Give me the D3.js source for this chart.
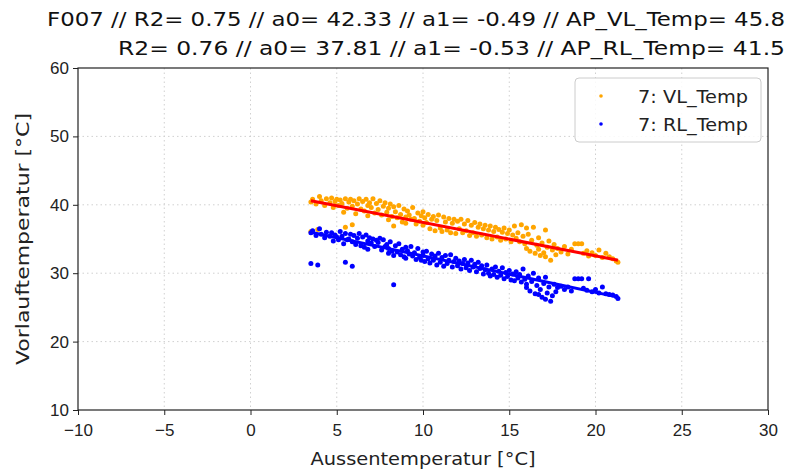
<!DOCTYPE html>
<html lang="de">
<head>
  <meta charset="UTF-8">
  <script src="https://d3js.org/d3.v7.min.js"></script>
  <style>
    body {
      margin: 0;
      background: #fff;
      font-family: "DejaVu Sans", sans-serif;
    }
    .grid line {
      stroke: #d0d0d0;
      stroke-dasharray: 1.5 3;
    }
    .axis text {
      font-size: 17px;
      fill: #222;
    }
  </style>
</head>
<body>
  <svg id="chart" width="799" height="471"></svg>

  <script>
    // outdoor temperature of each measurement
    const aussen = [
      3.5, 3.5, 3.6, 3.8, 3.9, 4.0, 4.1, 4.3, 4.4, 4.6, 4.7, 4.8, 4.9, 5.0, 5.1,
      5.2, 5.3, 5.4, 5.5, 5.5, 5.6, 5.7, 5.8, 5.9, 5.9, 6.0, 6.1, 6.2, 6.3, 6.4, 6.5, 6.6, 6.7, 6.8, 6.8, 6.9, 7.0, 7.1, 7.2, 7.3,
      7.4, 7.5, 7.6, 7.7, 7.8, 7.9, 8.0, 8.0, 8.1, 8.2, 8.3, 8.3, 8.4, 8.5, 8.6, 8.7, 8.8, 8.9, 9.0, 9.0, 9.1, 9.2, 9.3, 9.4, 9.5,
      9.6, 9.7, 9.8, 9.9, 10.0, 10.0, 10.1, 10.2,
      10.3, 10.4, 10.5, 10.6, 10.7, 10.8, 10.9, 11.0, 11.1, 11.2, 11.3, 11.4, 11.5, 11.6, 11.7, 11.8, 11.9, 12.0, 12.1, 12.2,
      12.3, 12.4, 12.5, 12.6, 12.7, 12.8, 12.9, 13.0, 13.1, 13.2,
      13.3, 13.4, 13.5, 13.6, 13.7, 13.8, 13.9, 14.0, 14.1, 14.2, 14.3, 14.4, 14.5, 14.6, 14.7, 14.8, 14.9, 15.0, 15.1, 15.2,
      15.3, 15.4, 15.5, 15.6, 15.7, 15.8, 15.9, 16.0, 16.0,
      16.1, 16.2, 16.3, 16.4, 16.5, 16.6, 16.7, 16.7, 16.8, 16.9, 17.0, 17.1, 17.1, 17.2, 17.3, 17.4, 17.5, 17.6, 17.7, 17.8, 18.0,
      18.2, 18.4, 18.6, 18.8, 19.0, 19.2, 19.3, 19.5, 19.6, 19.8, 20.0, 20.2, 20.4, 20.6, 20.8, 21.0, 21.2, 21.3];

    const vlTemp = [
      40.4, 36.1, 40.8, 40.1, 36.4, 41.2, 40.6, 39.9, 40.9, 40.3, 41.0, 39.6, 40.5, 40.8, 39.9,
      40.7, 40.2, 38.9, 36.7, 40.9, 39.5, 40.4, 40.8, 37.1, 39.8, 40.6, 38.7, 40.1, 40.9, 39.4, 40.5, 39.1, 40.8, 39.9, 38.4, 40.3, 39.6, 40.9, 38.8, 40.2,
      39.3, 40.6, 38.5, 39.8, 40.3, 38.9, 39.5, 37.8, 40.1, 38.3, 39.7, 36.9, 39.0, 38.1, 39.9, 38.6, 37.5, 39.4, 38.2, 37.3, 39.1, 38.5, 37.9, 39.6, 38.0,
      37.2, 38.8, 37.6, 38.4, 39.0, 37.0, 38.1, 37.4,
      38.6, 36.5, 37.9, 38.3, 36.2, 37.7, 38.5, 36.6, 36.1, 38.2, 37.5, 36.3, 38.0, 35.9, 37.3, 37.9, 35.8, 37.6, 36.5, 37.9,
      35.9, 37.2, 36.2, 37.7, 35.5, 37.0, 35.9, 37.4, 35.4, 36.7,
      37.2, 35.6, 36.5, 37.0, 35.2, 36.3, 36.9, 35.0, 36.1, 36.7, 35.3, 36.4, 34.8, 36.0, 36.6, 35.0, 35.8, 36.3, 34.6, 35.6,
      36.9, 35.1, 35.9, 34.6, 37.1, 35.4, 34.3, 36.6, 33.6,
      35.7, 33.2, 34.8, 36.7, 32.9, 34.1, 33.5, 35.2, 32.6, 34.4, 33.0, 36.3, 32.4, 33.8, 34.7, 31.9, 33.4, 34.2, 32.7, 33.6, 33.1,
      33.9, 32.8, 33.5, 34.3, 34.3, 34.3, 32.9, 33.3, 32.5, 33.0, 32.6, 33.4, 32.3, 32.9, 32.4, 32.1, 31.8, 31.6];

    const rlTemp = [
      35.9, 31.4, 36.2, 35.5, 31.2, 36.5, 35.7, 35.2, 36.0, 35.4, 35.9, 34.7, 35.6, 35.3, 34.9,
      36.1, 35.4, 34.3, 31.6, 35.8, 34.9, 35.0, 35.7, 31.0, 34.6, 35.5, 34.2, 35.1, 35.8, 34.0, 35.3, 33.8, 35.6, 34.7, 33.5, 35.2, 34.4, 35.0, 33.9, 34.8,
      34.5, 35.1, 33.4, 34.9, 33.9, 34.2, 33.6, 32.9, 34.6, 33.2, 28.3, 32.6, 34.0, 33.1, 34.3, 32.7, 33.5, 32.4, 33.8, 32.2, 33.3, 32.8, 33.9, 32.5, 33.0,
      32.0, 33.6, 32.3, 31.9, 33.1, 32.6, 31.7, 33.2,
      32.1, 31.5, 32.8, 31.9, 32.5, 31.2, 32.9, 31.6, 32.3, 31.0, 32.6, 31.4, 31.9, 32.7, 30.9, 31.7, 32.2, 31.1, 31.8, 30.6,
      31.4, 32.0, 30.8, 31.5, 30.4, 31.9, 30.9, 31.3, 30.2, 31.6,
      30.7, 31.1, 29.9, 30.5, 31.2, 30.0, 29.6, 30.6, 29.8, 30.9, 29.4, 30.3, 29.7, 30.8, 29.2, 30.1, 29.5, 30.4, 29.0, 29.9,
      28.9, 30.2, 29.3, 29.8, 28.7, 30.6, 29.1, 28.4, 27.9,
      29.6, 27.4, 28.8, 30.0, 27.0, 28.2, 26.9, 29.3, 27.6, 26.5, 28.5, 29.4, 26.2, 27.1, 28.0, 25.9, 26.7, 28.4, 27.3, 27.9, 28.1,
      27.6, 28.0, 27.4, 29.2, 29.2, 29.2, 27.8, 27.5, 29.2, 27.3, 27.6, 27.1, 28.0, 27.0, 26.9, 26.8, 26.6, 26.3];

    // fitted lines, end points
    const fitX = [3.5, 21.3];
    const fitVL = [40.6, 31.9];
    const fitRL = [36.0, 26.5];

    const xTicks = [-10, -5, 0, 5, 10, 15, 20, 25, 30];
    const yTicks = [10, 20, 30, 40, 50, 60];

    const titleLines = [
      "F007 // R2= 0.75 // a0= 42.33 // a1= -0.49 // AP_VL_Temp= 45.8",
      "R2= 0.76 // a0= 37.81 // a1= -0.53 // AP_RL_Temp= 41.5"
    ];
    const legendLabels = ["7: VL_Temp", "7: RL_Temp"];

    const svg = d3.select("#chart");
    const plotL = 78, plotR = 768, plotT = 68, plotB = 410;

    const x = d3.scaleLinear().domain([-10, 30]).range([plotL, plotR]);
    const y = d3.scaleLinear().domain([10, 60]).range([plotB, plotT]);

    // grid
    const grid = svg.append("g").attr("class", "grid");
    grid.selectAll(".gx").data(xTicks.slice(1, -1)).enter().append("line")
      .attr("x1", d => x(d)).attr("x2", d => x(d))
      .attr("y1", plotT).attr("y2", plotB);
    grid.selectAll(".gy").data(yTicks.slice(1, -1)).enter().append("line")
      .attr("x1", plotL).attr("x2", plotR)
      .attr("y1", d => y(d)).attr("y2", d => y(d));

    // scatter
    const pts = aussen.map((t, i) => ({ t, vl: vlTemp[i], rl: rlTemp[i] }));
    svg.append("g").selectAll("circle").data(pts).enter().append("circle")
      .attr("cx", d => x(d.t)).attr("cy", d => y(d.vl)).attr("r", 2.5)
      .attr("fill", "#ffa500");
    svg.append("g").selectAll("circle").data(pts).enter().append("circle")
      .attr("cx", d => x(d.t)).attr("cy", d => y(d.rl)).attr("r", 2.5)
      .attr("fill", "#0000ff");

    // regression lines
    const line = d3.line().x(d => x(d[0])).y(d => y(d[1]));
    svg.append("path").attr("d", line(fitX.map((t, i) => [t, fitVL[i]])))
      .attr("stroke", "#ff0000").attr("stroke-width", 3).attr("fill", "none");
    svg.append("path").attr("d", line(fitX.map((t, i) => [t, fitRL[i]])))
      .attr("stroke", "#0000ff").attr("stroke-width", 3).attr("fill", "none");

    // axes
    svg.append("g").attr("class", "axis")
      .attr("transform", `translate(0,${plotB})`)
      .call(d3.axisBottom(x).tickValues(xTicks).tickSize(5).tickPadding(9));
    svg.append("g").attr("class", "axis")
      .attr("transform", `translate(${plotL},0)`)
      .call(d3.axisLeft(y).tickValues(yTicks).tickSize(5).tickPadding(4));
    svg.selectAll(".axis .domain").remove();
    svg.selectAll(".axis line").attr("stroke", "#222");

    svg.append("rect")
      .attr("x", plotL).attr("y", plotT)
      .attr("width", plotR - plotL).attr("height", plotB - plotT)
      .attr("fill", "none").attr("stroke", "#222").attr("stroke-width", 1.2);

    // axis labels
    svg.append("text")
      .attr("x", (plotL + plotR) / 2).attr("y", 465)
      .attr("text-anchor", "middle").attr("font-size", 18).attr("fill", "#222")
      .attr("textLength", 225).attr("lengthAdjust", "spacingAndGlyphs")
      .text("Aussentemperatur [°C]");
    svg.append("text")
      .attr("transform", `translate(29,${(plotT + plotB) / 2}) rotate(-90)`)
      .attr("text-anchor", "middle").attr("font-size", 18).attr("fill", "#222")
      .attr("textLength", 252).attr("lengthAdjust", "spacingAndGlyphs")
      .text("Vorlauftemperatur [°C]");

    // title
    svg.append("text").attr("x", 47).attr("y", 26)
      .attr("font-size", 20).attr("fill", "#111")
      .attr("textLength", 738).attr("lengthAdjust", "spacingAndGlyphs")
      .text(titleLines[0]);
    svg.append("text").attr("x", 118).attr("y", 55)
      .attr("font-size", 20).attr("fill", "#111")
      .attr("textLength", 667).attr("lengthAdjust", "spacingAndGlyphs")
      .text(titleLines[1]);

    // legend
    const legend = svg.append("g");
    legend.append("rect")
      .attr("x", 575).attr("y", 78).attr("width", 186).attr("height", 64)
      .attr("rx", 4).attr("fill", "#fff").attr("fill-opacity", 0.85)
      .attr("stroke", "#ccc");
    const legColors = ["#ffa500", "#0000ff"];
    legendLabels.forEach((lab, i) => {
      legend.append("circle").attr("cx", 601).attr("cy", 96 + i * 28)
        .attr("r", 1.8).attr("fill", legColors[i]);
      legend.append("text").attr("x", 638).attr("y", 103 + i * 28)
        .attr("font-size", 17).attr("fill", "#222")
        .attr("textLength", 110).attr("lengthAdjust", "spacingAndGlyphs")
        .text(lab);
    });
  </script>
</body>
</html>
